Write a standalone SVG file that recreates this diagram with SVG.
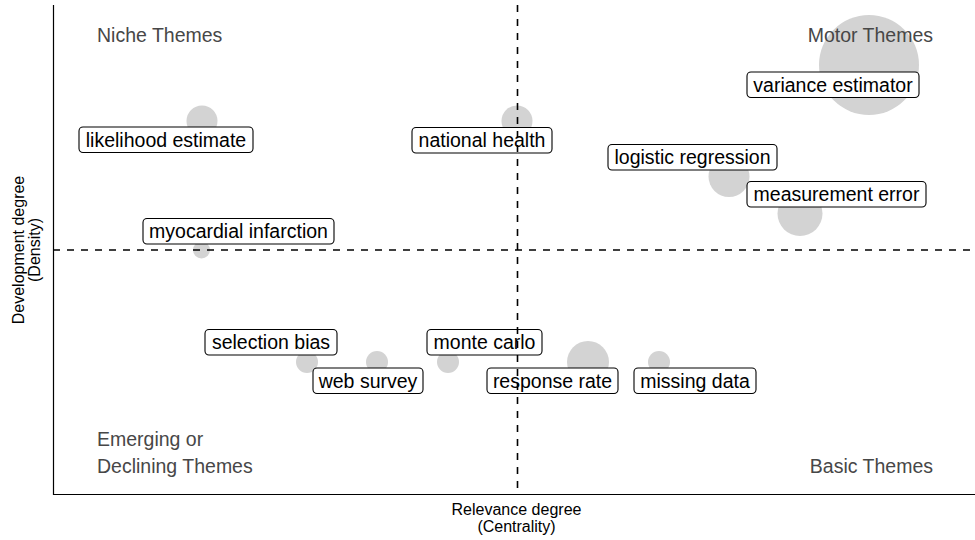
<svg xmlns="http://www.w3.org/2000/svg" width="975" height="540" viewBox="0 0 975 540">
  <style>
    .bubble { fill: #d3d3d3; stroke: none; }
    .box { fill: #ffffff; stroke: #000000; stroke-width: 1.1; }
    .lbl { font-family: "Liberation Sans", Arial, Helvetica, sans-serif; font-size: 19.5px; fill: #000000; text-anchor: middle; }
    .quad { font-family: "Liberation Sans", Arial, Helvetica, sans-serif; font-size: 19.5px; fill: #474747; }
    .axtitle { font-family: "Liberation Sans", Arial, Helvetica, sans-serif; font-size: 16px; fill: #000000; text-anchor: middle; }
    .axis { stroke: #000000; stroke-width: 1.2; fill: none; }
    .ref { stroke: #000000; stroke-width: 1.6; stroke-dasharray: 7 7; fill: none; }
  </style>

  <rect x="0" y="0" width="975" height="540" fill="#ffffff"/>

  <!-- theme bubbles: area ~ cluster size -->
  <g id="bubbles">
    <circle id="b-variance" class="bubble" cx="869" cy="65" r="50"/>
    <circle id="b-likelihood" class="bubble" cx="202" cy="121" r="15.5"/>
    <circle id="b-national" class="bubble" cx="517" cy="121" r="15.5"/>
    <circle id="b-logistic" class="bubble" cx="729" cy="176.5" r="20.5"/>
    <circle id="b-measurement" class="bubble" cx="800" cy="213.5" r="22.5"/>
    <circle id="b-myocardial" class="bubble" cx="201.5" cy="250" r="8.5"/>
    <circle id="b-selection" class="bubble" cx="307" cy="362" r="11"/>
    <circle id="b-web" class="bubble" cx="377" cy="362" r="11"/>
    <circle id="b-monte" class="bubble" cx="448" cy="362" r="11"/>
    <circle id="b-response" class="bubble" cx="588" cy="362" r="21"/>
    <circle id="b-missing" class="bubble" cx="659" cy="362" r="11"/>
  </g>

  <!-- theme labels -->
  <g id="variance-estimator">
    <rect class="box" x="747" y="72" width="172" height="25.5" rx="4"/>
    <text class="lbl" x="833" y="91.5">variance estimator</text>
  </g>
  <g id="likelihood-estimate">
    <rect class="box" x="79" y="127" width="174" height="25.5" rx="4"/>
    <text class="lbl" x="166" y="146.5">likelihood estimate</text>
  </g>
  <g id="national-health">
    <rect class="box" x="412" y="127.5" width="140" height="25.5" rx="4"/>
    <text class="lbl" x="482" y="147">national health</text>
  </g>
  <g id="logistic-regression">
    <rect class="box" x="608" y="144.5" width="169" height="25.5" rx="4"/>
    <text class="lbl" x="692.5" y="164">logistic regression</text>
  </g>
  <g id="measurement-error">
    <rect class="box" x="747" y="181.5" width="179" height="25.5" rx="4"/>
    <text class="lbl" x="836.5" y="201">measurement error</text>
  </g>
  <g id="myocardial-infarction">
    <rect class="box" x="143" y="218.5" width="191" height="25.5" rx="4"/>
    <text class="lbl" x="238.5" y="238">myocardial infarction</text>
  </g>
  <g id="selection-bias">
    <rect class="box" x="205" y="329.5" width="132" height="25.5" rx="4"/>
    <text class="lbl" x="271" y="349">selection bias</text>
  </g>
  <g id="monte-carlo">
    <rect class="box" x="427" y="329.5" width="115" height="25.5" rx="4"/>
    <text class="lbl" x="484.5" y="349">monte carlo</text>
  </g>
  <g id="web-survey">
    <rect class="box" x="313" y="368" width="110" height="25.5" rx="4"/>
    <text class="lbl" x="368" y="387.5">web survey</text>
  </g>
  <g id="response-rate">
    <rect class="box" x="487" y="368" width="131" height="25.5" rx="4"/>
    <text class="lbl" x="552.5" y="387.5">response rate</text>
  </g>
  <g id="missing-data">
    <rect class="box" x="634" y="368" width="122" height="25.5" rx="4"/>
    <text class="lbl" x="695" y="387.5">missing data</text>
  </g>

  <!-- quadrant reference lines (median centrality / density) -->
  <g id="reference-lines">
    <line class="ref" x1="53" y1="250" x2="975" y2="250"/>
    <line class="ref" x1="517.5" y1="5" x2="517.5" y2="494"/>
  </g>

  <!-- quadrant names -->
  <g id="quadrant-labels">
    <text class="quad" x="97" y="42">Niche Themes</text>
    <text class="quad" x="933" y="42" text-anchor="end">Motor Themes</text>
    <text class="quad" x="97" y="446">Emerging or</text>
    <text class="quad" x="97" y="473">Declining Themes</text>
    <text class="quad" x="933" y="473" text-anchor="end">Basic Themes</text>
  </g>

  <!-- axes -->
  <g id="axes">
    <line class="axis" x1="53.5" y1="5" x2="53.5" y2="495"/>
    <line class="axis" x1="53" y1="494.5" x2="975" y2="494.5"/>
    <text class="axtitle" x="516.5" y="515">Relevance degree</text>
    <text class="axtitle" x="516.5" y="532">(Centrality)</text>
    <text class="axtitle" transform="translate(23.5,250) rotate(-90)">Development degree</text>
    <text class="axtitle" transform="translate(40,250) rotate(-90)">(Density)</text>
  </g>
</svg>
